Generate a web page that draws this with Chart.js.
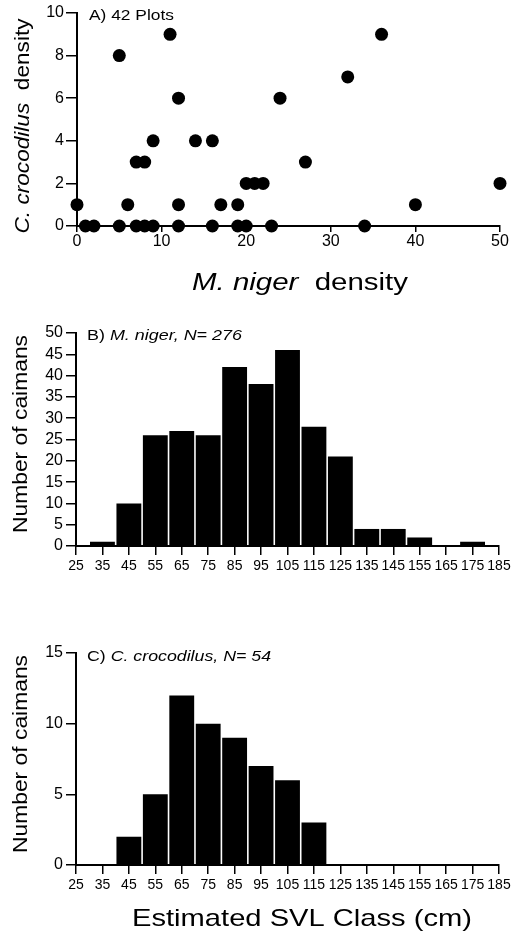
<!DOCTYPE html>
<html>
<head>
<meta charset="utf-8">
<script src="https://cdn.jsdelivr.net/npm/chart.js@4/dist/chart.umd.min.js"></script>
<style>
  html, body { margin: 0; padding: 0; background: #fff; }
  #wrap { position: relative; width: 518px; height: 935px; background: #fff; }
  .panel { position: absolute; left: 0; width: 518px; }
</style>
</head>
<body>
<div id="wrap">
  <div class="panel" style="top:0;height:300px"><canvas id="chartA" width="518" height="300"></canvas></div>
  <div class="panel" style="top:290px;height:310px"><canvas id="chartB" width="518" height="310"></canvas></div>
  <div class="panel" style="top:600px;height:335px"><canvas id="chartC" width="518" height="335"></canvas></div>
</div>
<script>
// ---------- DATA ----------
// Panel A: M. niger density (x) vs C. crocodilus density (y), 42 plots (some overlap)
const nigerDensity = [5, 11, 36, 12, 24, 32, 9, 14, 16, 7, 8, 27, 20, 21, 22, 50, 0, 6, 12, 17, 19, 40, 1, 2, 5, 7, 8, 9, 12, 16, 19, 20, 23, 34];
const crocDensity  = [8, 9, 9, 6, 6, 7, 4, 4, 4, 3, 3, 3, 2, 2, 2, 2, 1, 1, 1, 1, 1, 1, 0, 0, 0, 0, 0, 0, 0, 0, 0, 0, 0, 0];
const densityTicksX = [0, 10, 20, 30, 40, 50];
const densityTicksY = [0, 2, 4, 6, 8, 10];

// Panels B and C: estimated SVL class (cm) histograms
const svlClasses  = [25, 35, 45, 55, 65, 75, 85, 95, 105, 115, 125, 135, 145, 155, 165, 175];
const nigerCounts = [0, 1, 10, 26, 27, 26, 42, 38, 46, 28, 21, 4, 4, 2, 0, 1];
const crocCounts  = [0, 0, 2, 5, 12, 10, 9, 7, 6, 3, 0, 0, 0, 0, 0, 0];
const svlTicks    = [25, 35, 45, 55, 65, 75, 85, 95, 105, 115, 125, 135, 145, 155, 165, 175, 185];
const nigerTicksY = [0, 5, 10, 15, 20, 25, 30, 35, 40, 45, 50];
const crocTicksY  = [0, 5, 10, 15];

// ---------- STYLE ----------
const FONT = "'Liberation Sans', Arial, Helvetica, sans-serif";
Chart.defaults.font.family = FONT;
Chart.defaults.color = '#000';

// plugin: rich (mixed italic) text, stretched horizontally to a target length
const richText = {
  id: 'richText',
  afterDraw(chart, args, opts) {
    const ctx = chart.ctx;
    (opts.items || []).forEach(it => {
      ctx.save();
      ctx.fillStyle = '#000';
      ctx.textBaseline = 'alphabetic';
      ctx.textAlign = 'left';
      let total = 0;
      const widths = it.segs.map(s => {
        ctx.font = (s.italic ? 'italic ' : '') + it.size + 'px ' + FONT;
        const w = ctx.measureText(s.t).width;
        total += w;
        return w;
      });
      const sx = it.len ? it.len / total : 1;
      ctx.translate(it.x, it.y);
      if (it.rot) ctx.rotate(it.rot);
      ctx.scale(sx, 1);
      let pos = it.align === 'center' ? -total / 2 : 0;
      it.segs.forEach((s, i) => {
        ctx.font = (s.italic ? 'italic ' : '') + it.size + 'px ' + FONT;
        ctx.fillText(s.t, pos, 0);
        pos += widths[i];
      });
      ctx.restore();
    });
  }
};

function axisCommon(extra, tickLen) {
  return Object.assign({
    grid: { display: true, drawOnChartArea: false, drawTicks: true, tickLength: tickLen || 10, color: '#000', lineWidth: 1.5, offset: false },
    border: { display: true, color: '#000', width: 2 },
  }, extra);
}

function fixedTicks(values) {
  return function (scale) { scale.ticks = values.map(v => ({ value: v })); };
}

// ---------- PANEL A ----------
new Chart(document.getElementById('chartA'), {
  type: 'scatter',
  data: {
    datasets: [{
      data: nigerDensity.map((x, i) => ({ x: x, y: crocDensity[i] })),
      backgroundColor: '#000',
      borderWidth: 0,
      pointRadius: 6.5,
      clip: false
    }]
  },
  options: {
    responsive: false,
    animation: false,
    events: [],
    layout: { padding: { left: 0, right: 18, top: 13, bottom: 0 } },
    plugins: {
      legend: { display: false },
      tooltip: { enabled: false },
      richText: {
        items: [
          { segs: [{ t: 'A) 42 Plots' }], x: 89, y: 19.5, size: 15, len: 85 },
          { segs: [{ t: 'C. crocodilus', italic: true }, { t: '  density' }], x: 29, y: 126, rot: -Math.PI / 2, size: 21, len: 215, align: 'center' },
          { segs: [{ t: 'M. niger', italic: true }, { t: '  density' }], x: 300, y: 290, size: 23, len: 216, align: 'center' }
        ]
      }
    },
    scales: {
      x: axisCommon({
        type: 'linear', min: 0, max: 50,
        afterBuildTicks: fixedTicks(densityTicksX),
        afterFit(s) { s.height = 74; },
        ticks: { font: { size: 16 }, padding: 0, maxRotation: 0, autoSkip: false }
      }, 6),
      y: axisCommon({
        type: 'linear', min: 0, max: 10,
        afterBuildTicks: fixedTicks(densityTicksY),
        afterFit(s) { s.width = 77; },
        ticks: { font: { size: 16 }, padding: 2, autoSkip: false }
      }, 11)
    }
  },
  plugins: [richText]
});

// ---------- HISTOGRAMS ----------
function histogram(id, counts, yMax, yTicks, topPad, xAxisH, items) {
  return new Chart(document.getElementById(id), {
    type: 'bar',
    data: {
      datasets: [{
        data: svlClasses.map((c, i) => ({ x: c, y: counts[i] })),
        backgroundColor: '#000',
        borderWidth: 0,
        barPercentage: 0.94,
        categoryPercentage: 1.0
      }]
    },
    options: {
      responsive: false,
      animation: false,
      events: [],
      layout: { padding: { left: 0, right: 19, top: topPad, bottom: 0 } },
      plugins: {
        legend: { display: false },
        tooltip: { enabled: false },
        richText: { items: items }
      },
      scales: {
        x: axisCommon({
          type: 'linear', min: 25, max: 185, offset: false,
          afterBuildTicks: fixedTicks(svlTicks),
          afterFit(s) { s.height = xAxisH; },
          ticks: { font: { size: 14 }, padding: 3, maxRotation: 0, autoSkip: false }
        }, 9),
        y: axisCommon({
          type: 'linear', min: 0, max: yMax,
          afterBuildTicks: fixedTicks(yTicks),
          afterFit(s) { s.width = 76; },
          ticks: { font: { size: 16 }, padding: 3, autoSkip: false }
        }, 10)
      }
    },
    plugins: [richText]
  });
}

histogram('chartB', nigerCounts, 50, nigerTicksY, 43, 54, [
  { segs: [{ t: 'B) ' }, { t: 'M. niger, N= 276', italic: true }], x: 87, y: 50, size: 15, len: 155 },
  { segs: [{ t: 'Number of caimans' }], x: 27, y: 144, rot: -Math.PI / 2, size: 21, len: 198, align: 'center' }
]);

histogram('chartC', crocCounts, 15, crocTicksY, 53, 70, [
  { segs: [{ t: 'C) ' }, { t: 'C. crocodilus, N= 54', italic: true }], x: 87, y: 61, size: 15, len: 184 },
  { segs: [{ t: 'Number of caimans' }], x: 27, y: 154, rot: -Math.PI / 2, size: 21, len: 198, align: 'center' },
  { segs: [{ t: 'Estimated SVL Class (cm)' }], x: 302, y: 326, size: 24, len: 340, align: 'center' }
]);
</script>
</body>
</html>
